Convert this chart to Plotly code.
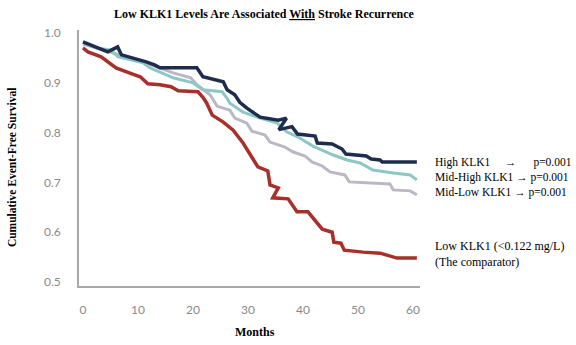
import plotly.graph_objects as go

# ---- data ----
high_months = [0, 4.5, 6.3, 7.0, 11.5, 13.0, 14.0, 20.7, 21.8, 25.5, 26.2, 27.6, 28.5, 29.8, 32.2,
               35.5, 37.0, 35.6, 38.0, 39.0, 42.2, 42.6, 45.3, 47.1, 47.8, 51.5, 52.4, 54.0, 54.4, 60.7]
high_surv = [0.982, 0.962, 0.972, 0.956, 0.942, 0.936, 0.930, 0.930, 0.912, 0.902, 0.886, 0.876, 0.861, 0.849, 0.831,
             0.825, 0.829, 0.806, 0.812, 0.797, 0.793, 0.779, 0.777, 0.767, 0.757, 0.753, 0.747, 0.745, 0.741, 0.741]

midhigh_months = [0, 2.5, 4.9, 6.4, 10.9, 12.2, 16.4, 20.0, 21.8, 25.3, 26.2, 26.7, 29.1, 32.2, 35.3,
                  37.1, 39.1, 41.8, 45.5, 48.0, 50.4, 51.6, 52.7, 56.4, 59.5, 60.7]
midhigh_surv = [0.980, 0.970, 0.966, 0.952, 0.940, 0.930, 0.910, 0.900, 0.886, 0.882, 0.869, 0.859, 0.841, 0.829, 0.819,
                0.801, 0.791, 0.773, 0.755, 0.745, 0.739, 0.731, 0.725, 0.719, 0.715, 0.705]

midlow_months = [0, 4.9, 10.9, 16.4, 19.6, 20.7, 23.1, 24.4, 26.7, 27.6, 29.8, 30.7, 33.1, 34.0, 36.7,
                 38.2, 40.4, 41.6, 43.5, 44.9, 47.6, 48.4, 55.8, 56.4, 59.5, 60.7]
midlow_surv = [0.978, 0.962, 0.942, 0.920, 0.910, 0.896, 0.876, 0.853, 0.845, 0.829, 0.819, 0.803, 0.795, 0.781, 0.771,
               0.761, 0.753, 0.741, 0.733, 0.721, 0.715, 0.701, 0.697, 0.685, 0.683, 0.675]

low_months = [0, 0.9, 3.3, 6.0, 8.9, 10.4, 11.8, 14.0, 16.0, 17.3, 20.9, 21.8, 22.5, 23.5, 25.5, 27.3,
              29.1, 30.7, 31.8, 33.6, 34.0, 35.5, 34.5, 37.3, 38.9, 40.9, 43.5, 45.3, 45.6, 46.9, 47.5,
              50.9, 54.0, 57.1, 60.7]
low_surv = [0.970, 0.962, 0.952, 0.930, 0.918, 0.912, 0.898, 0.896, 0.892, 0.884, 0.882, 0.871, 0.859, 0.835, 0.821, 0.805,
            0.779, 0.749, 0.731, 0.723, 0.695, 0.689, 0.669, 0.667, 0.641, 0.641, 0.606, 0.600, 0.580, 0.578, 0.564,
            0.560, 0.558, 0.548, 0.548]

x_ticks = [0, 10, 20, 30, 40, 50, 60]
y_ticks = [0.5, 0.6, 0.7, 0.8, 0.9, 1.0]

# label, spaces before arrow, spaces after arrow
legend_rows = [
    ("High KLK1", 5, 6, "p=0.001"),
    ("Mid-High KLK1", 1, 1, "p=0.001"),
    ("Mid-Low KLK1", 1, 1, "p=0.001"),
]
low_label = ["Low KLK1 (&lt;0.122 mg/L)", "(The comparator)"]

fig = go.Figure()
series = [
    (midlow_months, midlow_surv, "#b9b8c4", 3),
    (midhigh_months, midhigh_surv, "#8cc8c3", 3),
    (low_months, low_surv, "#a8302b", 3.5),
    (high_months, high_surv, "#1e2c4e", 3.5),
]
for xs, ys, col, w in series:
    fig.add_trace(go.Scatter(x=xs, y=ys, mode="lines",
                             line=dict(color=col, width=w), showlegend=False,
                             hoverinfo="skip"))

tick_font = dict(family="Lato", size=12, color="#8a8a8a")
fig.update_xaxes(range=[-0.727, 61.27], tickvals=x_ticks, showgrid=False, zeroline=False,
                 showline=True, linecolor="#a8a8a8", linewidth=1.5,
                 ticks="outside", ticklen=12, tickcolor="rgba(0,0,0,0)", tickfont=tick_font)
fig.update_yaxes(range=[0.492, 1.006], tickvals=y_ticks, tickformat=".1f", showgrid=False, zeroline=False,
                 showline=True, linecolor="#a8a8a8", linewidth=1.5,
                 ticks="outside", ticklen=14, tickcolor="rgba(0,0,0,0)", tickfont=tick_font)

serif = "Liberation Serif"
ann = []
ann.append(dict(text='<b>Low KLK1 Levels Are Associated '
                     '<span style="text-decoration:underline;text-decoration-color:#3f63c4">With</span>'
                     ' Stroke Recurrence</b>',
                xref="paper", yref="paper", x=0.543, y=1.0625, xanchor="center", yanchor="middle",
                showarrow=False, font=dict(family=serif, size=12, color="black")))
ann.append(dict(text="<b>Cumulative Event-Free Survival</b>", textangle=-90,
                xref="paper", yref="paper", x=-0.196, y=0.465, xanchor="center", yanchor="middle",
                showarrow=False, font=dict(family=serif, size=11.5, color="black")))
ann.append(dict(text="<b>Months</b>",
                xref="paper", yref="paper", x=0.516, y=-0.18, xanchor="center", yanchor="middle",
                showarrow=False, font=dict(family=serif, size=12, color="black")))

nb = "\u00a0"
lines = [f"{name}{nb * s1}\u2192{nb * s2}{p}" for name, s1, s2, p in legend_rows]
ann.append(dict(text="<br>".join(lines), align="left",
                xref="paper", yref="paper", x=(434 - 79) / 341, y=(286 - 177) / 256,
                xanchor="left", yanchor="middle", showarrow=False, borderpad=0,
                font=dict(family=serif, size=11.5, color="black")))
ann.append(dict(text="<br>".join(low_label), align="left",
                xref="paper", yref="paper", x=(434 - 79) / 341, y=(286 - 254) / 256,
                xanchor="left", yanchor="middle", showarrow=False, borderpad=0,
                font=dict(family=serif, size=12, color="black")))

fig.update_layout(width=576, height=345, margin=dict(l=79, r=156, t=30, b=59),
                  paper_bgcolor="white", plot_bgcolor="white", annotations=ann)

fig.write_html("out.html")
